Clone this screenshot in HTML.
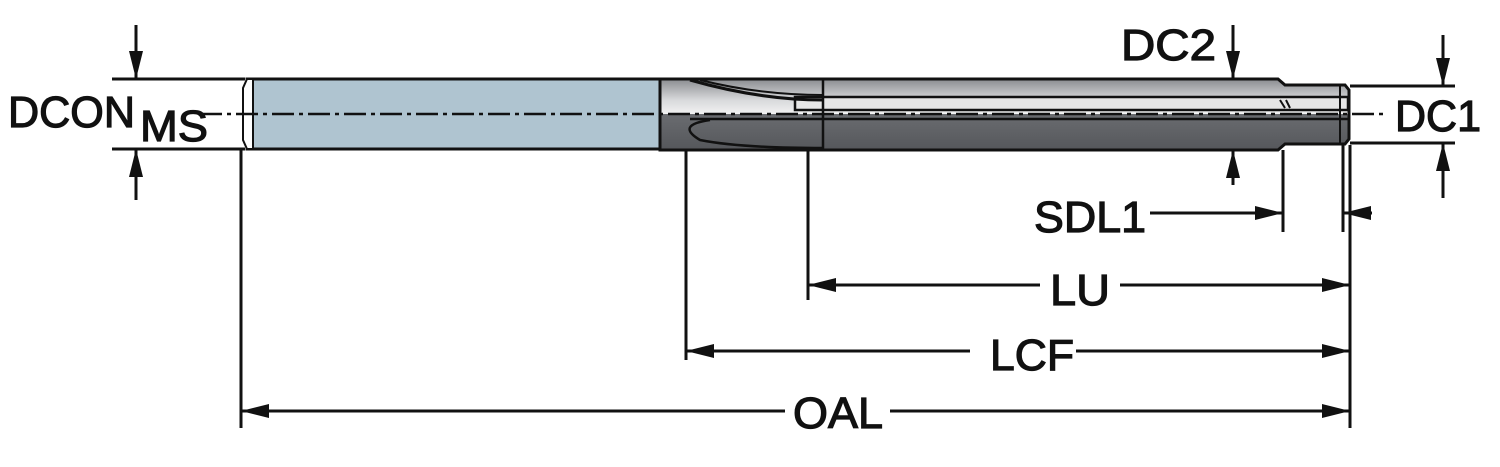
<!DOCTYPE html>
<html><head><meta charset="utf-8"><style>
html,body{margin:0;padding:0;background:#fff;}
svg{display:block;}
text{font-family:"Liberation Sans",Arial,sans-serif;fill:#111;stroke:#111;stroke-width:1.2;}
</style></head><body>
<svg width="1500" height="467" viewBox="0 0 1500 467" xmlns="http://www.w3.org/2000/svg">
<defs>
<linearGradient id="up" x1="0" y1="0" x2="0" y2="1">
<stop offset="0" stop-color="#8a8c90"/><stop offset="0.6" stop-color="#d8d9db"/><stop offset="1" stop-color="#f2f2f2"/>
</linearGradient>
<linearGradient id="dn" x1="0" y1="0" x2="0" y2="1">
<stop offset="0" stop-color="#7a7c80"/><stop offset="0.5" stop-color="#6a6c70"/><stop offset="1" stop-color="#55575b"/>
</linearGradient>
<marker id="a" viewBox="0 0 28 14" refX="28" refY="7" markerWidth="28" markerHeight="14" markerUnits="userSpaceOnUse" orient="auto">
<path d="M0,0 L28,7 L0,14 Z" fill="#111"/></marker>
</defs>
<!-- shank -->
<rect x="247" y="79" width="413" height="70" fill="#afc4d0" stroke="#111" stroke-width="3"/>
<path d="M247,79 L253,79 L253,149 L247,149 L243,140 L243,88 Z" fill="#fff" stroke="#111" stroke-width="2"/>
<!-- fluted body -->
<path d="M660,79 L1278,79 L1285,85 L1345,85 L1349,90 L1349,139 L1345,144 L1285,144 L1278,150 L660,150 Z" fill="url(#dn)"/>
<path d="M660,79 L1278,79 L1285,85 L1345,85 L1349,90 L1349,114 L660,114 Z" fill="url(#up)"/>
<path d="M795,97 L1348,97 L1348,110 L795,110 Z" fill="#e6e6e6" stroke="#111" stroke-width="2.5"/>
<path d="M690,80 Q760,100 823,100" fill="none" stroke="#111" stroke-width="3"/>
<path d="M700,80 Q760,95 823,95" fill="none" stroke="#111" stroke-width="2"/>
<path d="M710,120 Q675,125 700,140 Q740,148 823,148" fill="none" stroke="#111" stroke-width="2.5"/>
<line x1="690" y1="119" x2="1348" y2="119" stroke="#111" stroke-width="2.5"/>
<line x1="823" y1="79" x2="823" y2="150" stroke="#111" stroke-width="2.5"/>
<line x1="1340" y1="86" x2="1340" y2="143" stroke="#111" stroke-width="2"/>
<path d="M1280,100 L1285,108 M1286,100 L1290,108" stroke="#111" stroke-width="2"/>
<path d="M660,79 L1278,79 L1285,85 L1345,85 L1349,90 L1349,139 L1345,144 L1285,144 L1278,150 L660,150 Z" fill="none" stroke="#111" stroke-width="3"/>
<!-- centerline -->
<line x1="200" y1="114" x2="1385" y2="114" stroke="#111" stroke-width="2.5" stroke-dasharray="22,5,4,5"/>
<g stroke="#111" stroke-width="3" fill="none">
<line x1="112" y1="79" x2="245" y2="79"/><line x1="112" y1="149" x2="245" y2="149"/>
<line x1="136" y1="25" x2="136" y2="79" marker-end="url(#a)"/>
<line x1="136" y1="200" x2="136" y2="149" marker-end="url(#a)"/>
<line x1="1233" y1="25" x2="1233" y2="79" marker-end="url(#a)"/>
<line x1="1233" y1="185" x2="1233" y2="150" marker-end="url(#a)"/>
<line x1="1350" y1="86" x2="1455" y2="86"/><line x1="1350" y1="143" x2="1455" y2="143"/>
<line x1="1443" y1="35" x2="1443" y2="86" marker-end="url(#a)"/>
<line x1="1443" y1="198" x2="1443" y2="143" marker-end="url(#a)"/>
<line x1="241" y1="150" x2="241" y2="428"/>
<line x1="686" y1="150" x2="686" y2="360"/>
<line x1="808" y1="150" x2="808" y2="300"/>
<line x1="1283" y1="150" x2="1283" y2="232"/>
<line x1="1343" y1="145" x2="1343" y2="232"/>
<line x1="1350" y1="145" x2="1350" y2="428"/>
<line x1="1150" y1="213" x2="1283" y2="213" marker-end="url(#a)"/>
<line x1="1372" y1="213" x2="1343" y2="213" marker-end="url(#a)"/>
<line x1="1040" y1="285" x2="808" y2="285" marker-end="url(#a)"/>
<line x1="1120" y1="285" x2="1350" y2="285" marker-end="url(#a)"/>
<line x1="970" y1="351" x2="686" y2="351" marker-end="url(#a)"/>
<line x1="1076" y1="351" x2="1350" y2="351" marker-end="url(#a)"/>
<line x1="785" y1="411" x2="241" y2="411" marker-end="url(#a)"/>
<line x1="890" y1="411" x2="1350" y2="411" marker-end="url(#a)"/>
</g>
<g font-size="44">
<text x="8" y="127" textLength="127" lengthAdjust="spacingAndGlyphs">DCON</text>
<text x="140" y="141" textLength="68" lengthAdjust="spacingAndGlyphs">MS</text>
<text x="1121" y="60" textLength="95" lengthAdjust="spacingAndGlyphs">DC2</text>
<text x="1395" y="131" textLength="86" lengthAdjust="spacingAndGlyphs">DC1</text>
<text x="1034" y="232" textLength="112" lengthAdjust="spacingAndGlyphs">SDL1</text>
<text x="1050" y="305" textLength="60" lengthAdjust="spacingAndGlyphs">LU</text>
<text x="990" y="370" textLength="84" lengthAdjust="spacingAndGlyphs">LCF</text>
<text x="793" y="428" textLength="90" lengthAdjust="spacingAndGlyphs">OAL</text>
</g>
</svg>
</body></html>
